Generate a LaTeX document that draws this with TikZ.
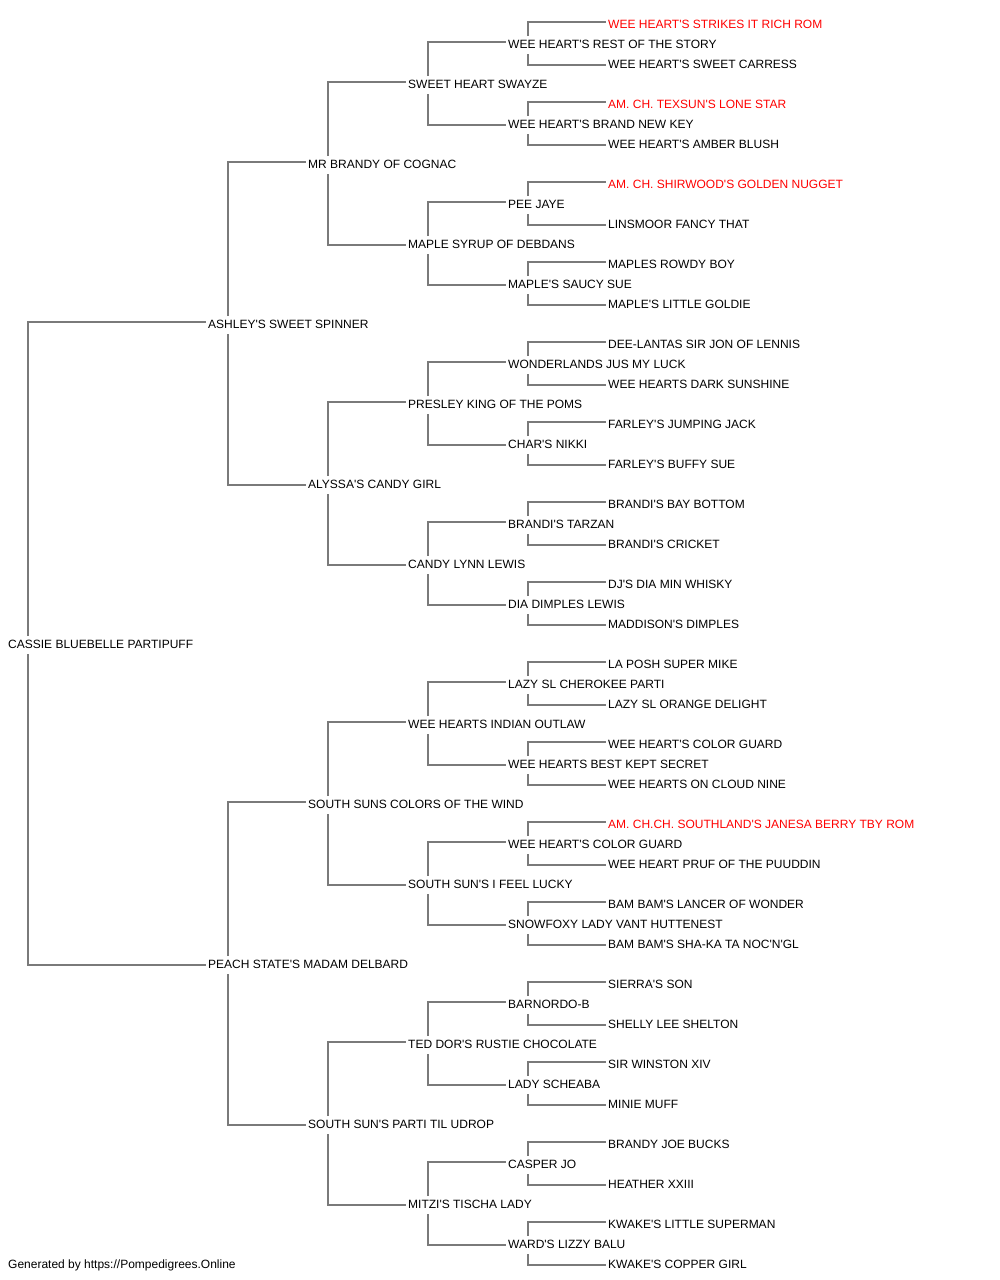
\documentclass[tikz,border=0pt]{standalone}
\usepackage{fontspec}
\setmainfont{Liberation Sans}
\newcommand\aps{\textquotesingle}
\definecolor{lncol}{RGB}{122,122,122}
\definecolor{redname}{RGB}{255,0,0}
\begin{document}
\begin{tikzpicture}[x=1pt,y=1pt,
  nm/.style={anchor=west,inner sep=0pt,text height=8.6pt,text depth=0pt,font=\fontsize{12}{14}\selectfont},
  rd/.style={nm,text=redname},
  ln/.style={draw=lncol,line width=2pt}]
\useasboundingbox (0,0) rectangle (1000,-1280);
% generation 0
\node[nm] (n1) at (8,-644) {CASSIE BLUEBELLE PARTIPUFF};
% generation 1
\node[nm] (n2) at (208,-324) {ASHLEY\aps S SWEET SPINNER};
\node[nm] (n3) at (208,-964) {PEACH STATE\aps S MADAM DELBARD};
% generation 2
\node[nm] (n4) at (308,-164) {MR BRANDY OF COGNAC};
\node[nm] (n5) at (308,-484) {ALYSSA\aps S CANDY GIRL};
\node[nm] (n6) at (308,-804) {SOUTH SUNS COLORS OF THE WIND};
\node[nm] (n7) at (308,-1124) {SOUTH SUN\aps S PARTI TIL UDROP};
% generation 3
\node[nm] (n8) at (408,-84) {SWEET HEART SWAYZE};
\node[nm] (n9) at (408,-244) {MAPLE SYRUP OF DEBDANS};
\node[nm] (n10) at (408,-404) {PRESLEY KING OF THE POMS};
\node[nm] (n11) at (408,-564) {CANDY LYNN LEWIS};
\node[nm] (n12) at (408,-724) {WEE HEARTS INDIAN OUTLAW};
\node[nm] (n13) at (408,-884) {SOUTH SUN\aps S I FEEL LUCKY};
\node[nm] (n14) at (408,-1044) {TED DOR\aps S RUSTIE CHOCOLATE};
\node[nm] (n15) at (408,-1204) {MITZI\aps S TISCHA LADY};
% generation 4
\node[nm] (n16) at (508,-44) {WEE HEART\aps S REST OF THE STORY};
\node[nm] (n17) at (508,-124) {WEE HEART\aps S BRAND NEW KEY};
\node[nm] (n18) at (508,-204) {PEE JAYE};
\node[nm] (n19) at (508,-284) {MAPLE\aps S SAUCY SUE};
\node[nm] (n20) at (508,-364) {WONDERLANDS JUS MY LUCK};
\node[nm] (n21) at (508,-444) {CHAR\aps S NIKKI};
\node[nm] (n22) at (508,-524) {BRANDI\aps S TARZAN};
\node[nm] (n23) at (508,-604) {DIA DIMPLES LEWIS};
\node[nm] (n24) at (508,-684) {LAZY SL CHEROKEE PARTI};
\node[nm] (n25) at (508,-764) {WEE HEARTS BEST KEPT SECRET};
\node[nm] (n26) at (508,-844) {WEE HEART\aps S COLOR GUARD};
\node[nm] (n27) at (508,-924) {SNOWFOXY LADY VANT HUTTENEST};
\node[nm] (n28) at (508,-1004) {BARNORDO-B};
\node[nm] (n29) at (508,-1084) {LADY SCHEABA};
\node[nm] (n30) at (508,-1164) {CASPER JO};
\node[nm] (n31) at (508,-1244) {WARD\aps S LIZZY BALU};
% generation 5
\node[rd] (n32) at (608,-24) {WEE HEART\aps S STRIKES IT RICH ROM};
\node[nm] (n33) at (608,-64) {WEE HEART\aps S SWEET CARRESS};
\node[rd] (n34) at (608,-104) {AM. CH. TEXSUN\aps S LONE STAR};
\node[nm] (n35) at (608,-144) {WEE HEART\aps S AMBER BLUSH};
\node[rd] (n36) at (608,-184) {AM. CH. SHIRWOOD\aps S GOLDEN NUGGET};
\node[nm] (n37) at (608,-224) {LINSMOOR FANCY THAT};
\node[nm] (n38) at (608,-264) {MAPLES ROWDY BOY};
\node[nm] (n39) at (608,-304) {MAPLE\aps S LITTLE GOLDIE};
\node[nm] (n40) at (608,-344) {DEE-LANTAS SIR JON OF LENNIS};
\node[nm] (n41) at (608,-384) {WEE HEARTS DARK SUNSHINE};
\node[nm] (n42) at (608,-424) {FARLEY\aps S JUMPING JACK};
\node[nm] (n43) at (608,-464) {FARLEY\aps S BUFFY SUE};
\node[nm] (n44) at (608,-504) {BRANDI\aps S BAY BOTTOM};
\node[nm] (n45) at (608,-544) {BRANDI\aps S CRICKET};
\node[nm] (n46) at (608,-584) {DJ\aps S DIA MIN WHISKY};
\node[nm] (n47) at (608,-624) {MADDISON\aps S DIMPLES};
\node[nm] (n48) at (608,-664) {LA POSH SUPER MIKE};
\node[nm] (n49) at (608,-704) {LAZY SL ORANGE DELIGHT};
\node[nm] (n50) at (608,-744) {WEE HEART\aps S COLOR GUARD};
\node[nm] (n51) at (608,-784) {WEE HEARTS ON CLOUD NINE};
\node[rd] (n52) at (608,-824) {AM. CH.CH. SOUTHLAND\aps S JANESA BERRY TBY ROM};
\node[nm] (n53) at (608,-864) {WEE HEART PRUF OF THE PUUDDIN};
\node[nm] (n54) at (608,-904) {BAM BAM\aps S LANCER OF WONDER};
\node[nm] (n55) at (608,-944) {BAM BAM\aps S SHA-KA TA NOC\aps N\aps GL};
\node[nm] (n56) at (608,-984) {SIERRA\aps S SON};
\node[nm] (n57) at (608,-1024) {SHELLY LEE SHELTON};
\node[nm] (n58) at (608,-1064) {SIR WINSTON XIV};
\node[nm] (n59) at (608,-1104) {MINIE MUFF};
\node[nm] (n60) at (608,-1144) {BRANDY JOE BUCKS};
\node[nm] (n61) at (608,-1184) {HEATHER XXIII};
\node[nm] (n62) at (608,-1224) {KWAKE\aps S LITTLE SUPERMAN};
\node[nm] (n63) at (608,-1264) {KWAKE\aps S COPPER GIRL};
% footer
\node[nm] (foot) at (8,-1264) {Generated by https://Pompedigrees.Online};
% connectors
\foreach \k in {1,...,31}{
  \pgfmathtruncatemacro\sire{2*\k}
  \pgfmathtruncatemacro\dam{2*\k+1}
  \draw[ln] ([xshift=20pt,yshift=8pt]n\k.west) |- ([xshift=-2pt,yshift=2pt]n\sire.west);
  \draw[ln] ([xshift=20pt,yshift=-10pt]n\k.west) |- ([xshift=-2pt,yshift=-1pt]n\dam.west);
}
\end{tikzpicture}
\end{document}
